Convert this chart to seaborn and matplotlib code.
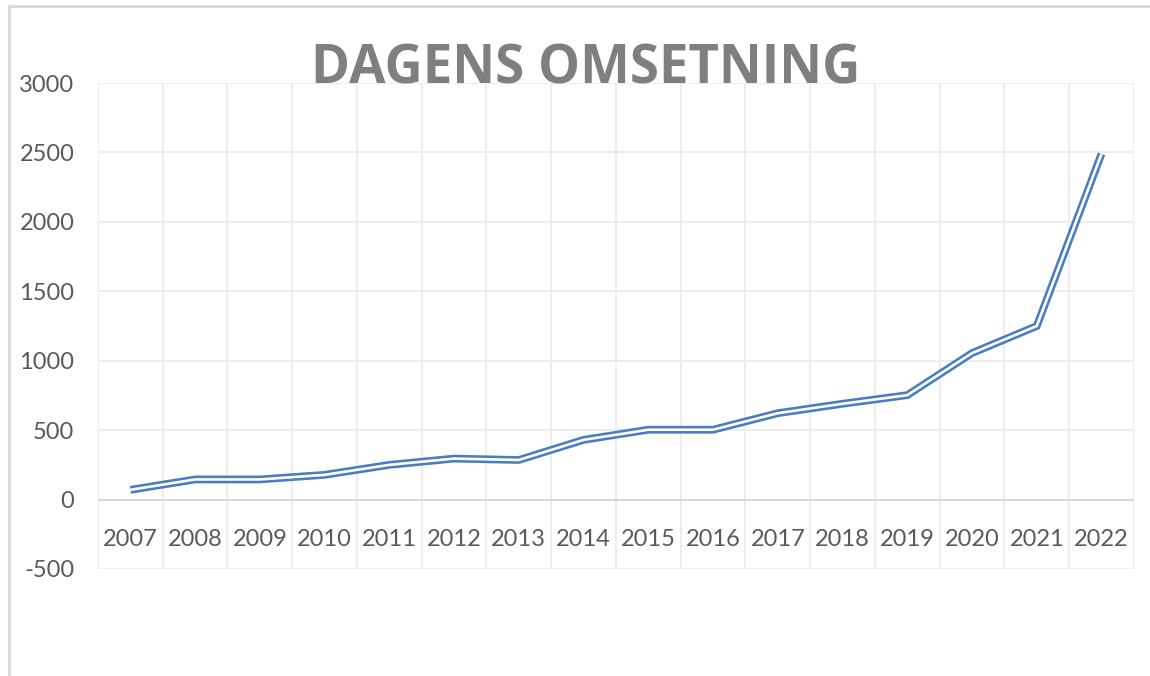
import matplotlib
matplotlib.use("Agg")
import matplotlib.pyplot as plt
from matplotlib.lines import Line2D
import pandas as pd
import seaborn as sns

# values
years = [2007, 2008, 2009, 2010, 2011, 2012, 2013, 2014,
         2015, 2016, 2017, 2018, 2019, 2020, 2021, 2022]
omsetning = [70, 145, 145, 178, 250, 295, 285, 430,
             503, 503, 622, 690, 752, 1055, 1250, 2490]
yticks = [-500, 0, 500, 1000, 1500, 2000, 2500, 3000]

df = pd.DataFrame({"aar": years, "omsetning": omsetning})

sns.set_theme(style="white")
plt.rcParams["font.family"] = ["Lato", "DejaVu Sans"]

blue = "#4a7dbf"
grid = "#ececec"
label_col = "#595959"

fig = plt.figure(figsize=(11.5, 6.76), dpi=100)
ax = fig.add_axes([0.0852, 0.1583, 0.9008, 0.7189])

# double (compound) line: wide blue stroke with a white core
sns.lineplot(data=df, x="aar", y="omsetning", ax=ax, color=blue, linewidth=5.6,
             solid_joinstyle="miter", solid_capstyle="butt")
sns.lineplot(data=df, x="aar", y="omsetning", ax=ax, color="white", linewidth=1.9,
             solid_joinstyle="miter", solid_capstyle="butt")

ax.set_xlim(years[0] - 0.5, years[-1] + 0.5)
ax.set_ylim(-500, 3000)
ax.set_yticks(yticks)
ax.set_yticklabels([str(t) for t in yticks])
ax.set_xticks(years)
ax.set_xticklabels([str(y) for y in years])
ax.set_xticks([y + 0.5 for y in [years[0] - 1] + years], minor=True)
ax.set_xlabel("")
ax.set_ylabel("")

ax.grid(True, axis="y", which="major", color=grid, linewidth=1.3)
ax.grid(True, axis="x", which="minor", color=grid, linewidth=1.3)
ax.set_axisbelow(True)
ax.axhline(0, color="#d9d9d9", linewidth=1.4, zorder=1)

for s in ax.spines.values():
    s.set_visible(False)
ax.spines["bottom"].set_position(("data", 0))

ax.tick_params(axis="both", which="both", length=0, labelsize=17, labelcolor=label_col)
ax.tick_params(axis="y", pad=17)
ax.tick_params(axis="x", pad=21)

fig.text(0.5096, 1 - 84 / 676, "DAGENS OMSETNING", ha="center", va="baseline",
         fontsize=38, fontweight="bold", color="#7f7f7f", family=["Open Sans", "DejaVu Sans"])

# chart area border (cut off at right and bottom)
fig.add_artist(Line2D([9 / 1150, 1], [1 - 6 / 676, 1 - 6 / 676],
                      transform=fig.transFigure, color="#d9d9d9", linewidth=2))
fig.add_artist(Line2D([9 / 1150, 9 / 1150], [0, 1 - 6 / 676],
                      transform=fig.transFigure, color="#d9d9d9", linewidth=2))

fig.savefig("out.png", dpi=100, facecolor="white")
